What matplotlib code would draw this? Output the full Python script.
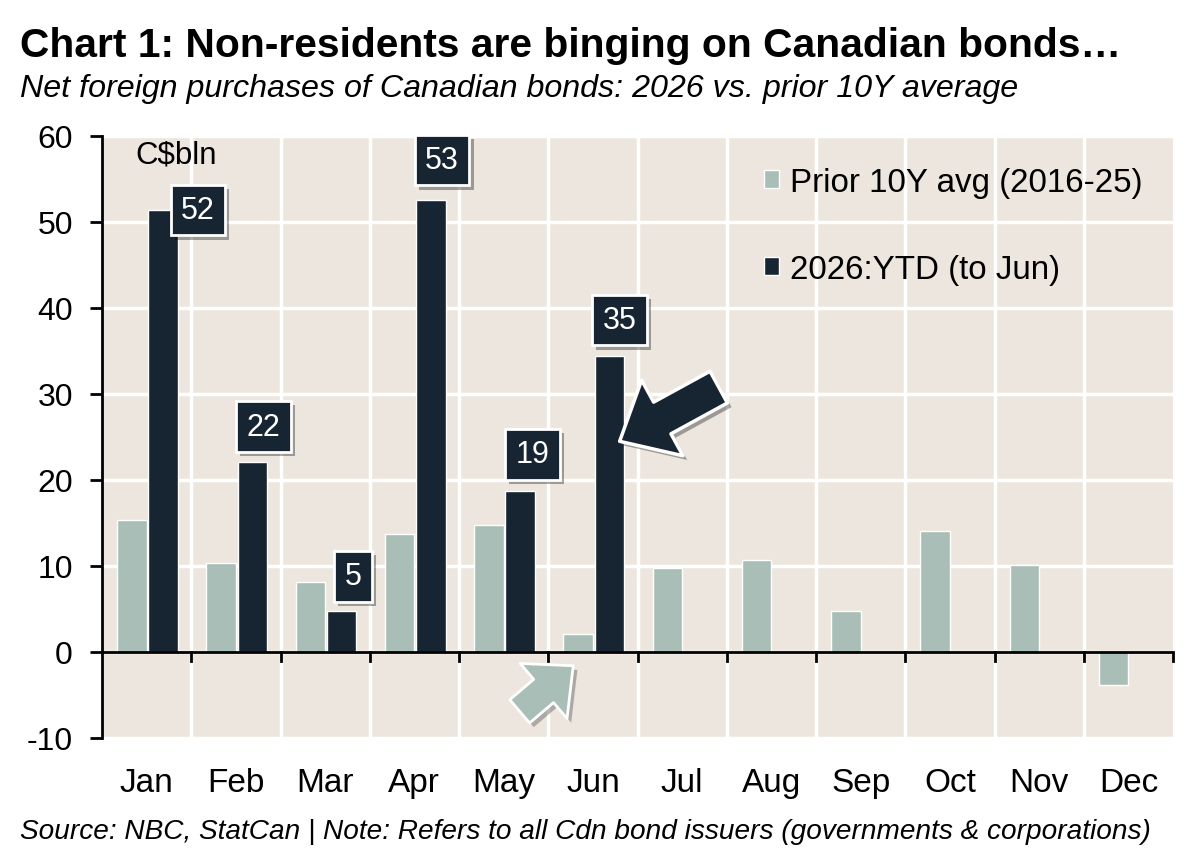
import numpy as np
import matplotlib
matplotlib.use("Agg")
import matplotlib.pyplot as plt
from matplotlib.patches import Patch
import matplotlib.patheffects as pe

months = ["Jan", "Feb", "Mar", "Apr", "May", "Jun",
          "Jul", "Aug", "Sep", "Oct", "Nov", "Dec"]
prior_avg = [15.3, 10.3, 8.1, 13.7, 14.8, 2.1, 9.8, 10.7, 4.8, 14.1, 10.1, -3.8]
ytd_2026 = [51.4, 22.1, 4.8, 52.6, 18.7, 34.4]
ytd_labels = ["52", "22", "5", "53", "19", "35"]

BG = "#ECE6DE"
LIGHT = "#A8BEB7"
DARK = "#172532"

plt.rcParams["font.family"] = ["Liberation Sans", "DejaVu Sans"]
plt.rcParams["axes.unicode_minus"] = False

fig = plt.figure(figsize=(12, 8.54), dpi=100)
ax = fig.add_axes([102 / 1200, 1 - 739 / 854, (1173 - 102) / 1200, (739 - 137) / 854])
ax.set_facecolor(BG)

x = np.arange(len(months))
x26 = np.arange(len(ytd_2026))
w = 0.33
ax.bar(x - 0.165, prior_avg, w, color=LIGHT, edgecolor="white", linewidth=1,
       label="Prior 10Y avg (2016-25)", zorder=3)
ax.bar(x26 + 0.185, ytd_2026, w, color=DARK, edgecolor="white", linewidth=1,
       label="2026:YTD (to Jun)", zorder=3)

ax.set_xlim(-0.5, len(months) - 0.5)
ax.set_ylim(-10, 60)

# grid: white lines at every 10 and between months
for b in np.arange(0.5, len(months) - 0.5, 1):
    ax.axvline(b, color="white", lw=2.5, zorder=1)
for yv in range(-10, 61, 10):
    ax.axhline(yv, color="white", lw=2.5, zorder=1)

ax.axhline(0, color="black", lw=2, zorder=4)
for b in np.arange(0.5, len(months) + 0.5, 1):
    ax.plot([b, b], [0, -1.05], color="black", lw=2, zorder=4, clip_on=False)

for s in ["top", "right", "bottom"]:
    ax.spines[s].set_visible(False)
ax.spines["left"].set_linewidth(2)
ax.spines["left"].set_zorder(5)

ax.set_yticks(range(-10, 61, 10))
ax.tick_params(axis="y", direction="out", length=9, width=2, labelsize=23, pad=12)
ax.set_xticks(x)
ax.set_xticklabels(months)
ax.tick_params(axis="x", length=0, labelsize=24, pad=21)

ax.text(-0.13, 57.9, "C$bln", fontsize=22.5, va="center", ha="left", zorder=6)

# value boxes for 2026 bars
label_pos = [(0.575, 51.4), (1.31, 26.2), (2.31, 8.8), (3.31, 57.2), (4.32, 23.0), (5.3, 38.6)]
shadow = [pe.SimplePatchShadow(offset=(3, -3), alpha=0.35), pe.Normal()]
for (lx, ly), t in zip(label_pos, ytd_labels):
    txt = ax.text(lx, ly, t, color="white", fontsize=22, ha="center", va="center", zorder=7,
                  bbox=dict(boxstyle="square,pad=0.34", fc=DARK, ec="white", lw=2))
    txt.get_bbox_patch().set_path_effects(shadow)

# big block arrows
a1 = ax.annotate("", xy=(5.30, 24.5), xytext=(6.41, 30.8),
                 arrowprops=dict(arrowstyle="simple,head_length=3.5,head_width=6.2,tail_width=2.6",
                                 mutation_scale=10, fc=DARK, ec="white", lw=2.5,
                                 shrinkA=0, shrinkB=0), zorder=8, annotation_clip=False)
a1.arrow_patch.set_path_effects(shadow)
a2 = ax.annotate("", xy=(4.78, -1.6), xytext=(4.18, -6.9),
                 arrowprops=dict(arrowstyle="simple,head_length=2.8,head_width=5.2,tail_width=2.2",
                                 mutation_scale=10, fc=LIGHT, ec="white", lw=2,
                                 shrinkA=0, shrinkB=0), zorder=8, annotation_clip=False)
a2.arrow_patch.set_path_effects(shadow)

handles = [Patch(facecolor=LIGHT, edgecolor="white"), Patch(facecolor=DARK, edgecolor="white")]
ax.legend(handles, ["Prior 10Y avg (2016-25)", "2026:YTD (to Jun)"], loc="upper left",
          bbox_to_anchor=(0.59, 0.998), frameon=False, fontsize=23.9, handlelength=0.45,
          handleheight=0.45, handletextpad=0.35, labelspacing=1.68)

fig.text(20 / 1200, 1 - 46 / 854, "Chart 1: Non-residents are binging on Canadian bonds\u2026",
         fontsize=29.3, fontweight="bold", va="center", ha="left")
fig.text(20 / 1200, 1 - 89 / 854, "Net foreign purchases of Canadian bonds: 2026 vs. prior 10Y average",
         fontsize=23.2, style="italic", va="center", ha="left")
fig.text(20 / 1200, 1 - 832 / 854,
         "Source: NBC, StatCan | Note: Refers to all Cdn bond issuers (governments & corporations)",
         fontsize=20.2, style="italic", va="center", ha="left")

fig.savefig("out.png", dpi=100, facecolor="white")
